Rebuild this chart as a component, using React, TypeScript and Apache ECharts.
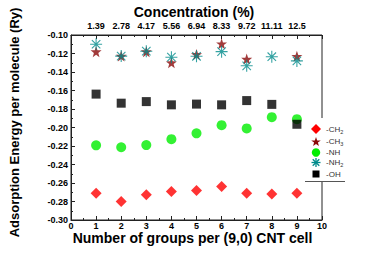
import React, { useEffect, useRef } from "react";
import * as echarts from "echarts";

const groups = [1, 2, 3, 4, 5, 6, 7, 8, 9];
const concentration = ["1.39", "2.78", "4.17", "5.56", "6.94", "8.33", "9.72", "11.11", "12.5"];
const ch2 = [-0.271, -0.280, -0.2726, -0.2691, -0.268, -0.2639, -0.271, -0.272, -0.271];
const ch3 = [-0.118, -0.1228, -0.118, -0.130, -0.121, -0.1095, -0.126, null, -0.123];
const nh = [-0.2193, -0.2214, -0.219, -0.2126, -0.2063, -0.1975, -0.201, -0.1888, -0.191];
const nh2 = [-0.110, -0.1228, -0.1175, -0.124, -0.123, -0.118, -0.1333, -0.1235, -0.128];
const oh = [-0.1639, -0.1737, -0.172, -0.1755, -0.1747, -0.1755, -0.1709, -0.175, -0.1965];
const legendLabels = ["-CH{s|2}", "-CH{s|3}", "-NH", "-NH{s|2}", "-OH"];

const STAR =
  "path://M0,-10L2.35,-3.24L9.51,-3.09L3.8,1.24L5.88,8.09L0,4L-5.88,8.09L-3.8,1.24L-9.51,-3.09L-2.35,-3.24Z";
const ASTER =
  "path://M-0.9,-10L0.9,-10L0.9,10L-0.9,10Z M-10,-0.9L10,-0.9L10,0.9L-10,0.9Z " +
  "M-7.7,-6.4L-6.4,-7.7L7.7,6.4L6.4,7.7Z M6.4,-7.7L7.7,-6.4L-6.4,7.7L-7.7,6.4Z";

const FONT = "Liberation Sans, Arial, sans-serif";
const COLORS = ["#ff0000", "#8b0a0a", "#00ee00", "#008b8b", "#000000"];

function pairs(vals: (number | null)[]) {
  return groups.map((g, i) => [g, vals[i]]).filter((p) => p[1] !== null);
}

function starPoints(cx: number, cy: number, R: number, r: number) {
  const pts: number[][] = [];
  for (let k = 0; k < 10; k++) {
    const a = (-90 + k * 36) * Math.PI / 180;
    const rad = k % 2 === 0 ? R : r;
    pts.push([cx + rad * Math.cos(a), cy + rad * Math.sin(a)]);
  }
  return pts;
}

function legendGraphics() {
  const cx = 316;
  const rows = [129, 141.5, 152.5, 162.5, 174];
  const els: any[] = [
    { type: "rect", shape: { x: 305, y: 118, width: 41, height: 63 }, style: { fill: "#fff" }, z: 50 },
    { type: "line", shape: { x1: 305, y1: 181.5, x2: 345, y2: 181.5 }, style: { stroke: "#555", lineWidth: 1 }, z: 51 },
  ];
  const y0 = rows[0], y1 = rows[1], y2 = rows[2], y3 = rows[3], y4 = rows[4];
  els.push({ type: "polygon", shape: { points: [[cx, y0 - 5], [cx + 5, y0], [cx, y0 + 5], [cx - 5, y0]] }, style: { fill: COLORS[0] }, z: 51 });
  els.push({ type: "polygon", shape: { points: starPoints(cx, y1 + 0.5, 5, 2) }, style: { fill: COLORS[1] }, z: 51 });
  els.push({ type: "circle", shape: { cx, cy: y2, r: 4.2 }, style: { fill: COLORS[2] }, z: 51 });
  const a = 4.5, d = 3.3;
  [[0, -a, 0, a], [-a, 0, a, 0], [-d, -d, d, d], [-d, d, d, -d]].forEach((s) =>
    els.push({ type: "line", shape: { x1: cx + s[0], y1: y3 + s[1], x2: cx + s[2], y2: y3 + s[3] }, style: { stroke: COLORS[3], lineWidth: 1.3 }, z: 51 })
  );
  els.push({ type: "rect", shape: { x: cx - 3.5, y: y4 - 3.5, width: 7, height: 7 }, style: { fill: COLORS[4] }, z: 51 });
  rows.forEach((y, i) =>
    els.push({
      type: "text", x: 326, y, z: 52,
      style: {
        text: legendLabels[i], fill: "#333", fontSize: 8, fontFamily: FONT, verticalAlign: "middle",
        rich: { s: { fontSize: 5.5, fill: "#333", fontFamily: FONT, padding: [5, 0, 0, 0] } },
      },
    })
  );
  return els;
}

export default function App() {
  const ref = useRef<HTMLDivElement>(null);
  useEffect(() => {
    document.body.style.margin = "0";
    const chart = echarts.init(ref.current!, null, { renderer: "svg" });
    const axisLine = { show: true, lineStyle: { color: "#222", width: 1 } };
    const tickLabel = { color: "#000", fontSize: 9, fontWeight: "bold" as const, fontFamily: FONT };
    chart.setOption({
      animation: false,
      backgroundColor: "#fff",
      grid: { left: 67, right: 52, top: 30, bottom: 44, show: true, borderColor: "#222", borderWidth: 1, backgroundColor: "transparent" },
      xAxis: [
        {
          type: "value", min: 0, max: 10, interval: 1, position: "bottom",
          axisLine, splitLine: { show: false },
          axisTick: { show: true, inside: true, length: 4, lineStyle: { color: "#222" } },
          minorTick: { show: true, splitNumber: 2, length: 2, lineStyle: { color: "#222" } },
          axisLabel: { ...tickLabel, margin: 1 },
          name: "Number of groups per (9,0) CNT cell",
          nameLocation: "middle", nameGap: 10.5, nameMoveOverlap: false,
          nameTextStyle: { color: "#000", fontSize: 14, fontWeight: "bold", fontFamily: FONT, padding: [0, 8, 0, 0] },
        },
        {
          type: "value", min: 0, max: 10, interval: 1, position: "top",
          axisLine, splitLine: { show: false },
          axisTick: { show: true, inside: true, length: 4, lineStyle: { color: "#222" } },
          minorTick: { show: true, splitNumber: 2, length: 2, lineStyle: { color: "#222" } },
          axisLabel: {
            ...tickLabel, margin: 5,
            formatter: (v: number) => (v >= 1 && v <= 9 ? concentration[Math.round(v) - 1] : ""),
          },
          name: "Concentration (%)",
          nameLocation: "middle", nameGap: 16, nameMoveOverlap: false,
          nameTextStyle: { color: "#000", fontSize: 14, fontWeight: "bold", fontFamily: FONT, padding: [0, 5, 0, 0] },
        },
      ],
      yAxis: {
        type: "value", min: -0.3, max: -0.1, interval: 0.02,
        axisLine, splitLine: { show: false },
        axisTick: { show: true, inside: true, length: 4, lineStyle: { color: "#222" } },
        minorTick: { show: true, splitNumber: 2, length: 2, lineStyle: { color: "#222" } },
        axisLabel: { ...tickLabel, margin: 3, formatter: (v: number) => v.toFixed(2) },
        name: "Adsorption Energy per molecule (Ry)",
        nameLocation: "middle", nameGap: 50, nameMoveOverlap: false,
        nameTextStyle: { color: "#000", fontSize: 13, fontWeight: "bold", fontFamily: FONT, padding: [0, 0, 0, 10] },
      },
      graphic: legendGraphics(),
      series: [
        { name: "-CH2", type: "scatter", data: pairs(ch2), symbol: "diamond", symbolSize: 11, itemStyle: { color: COLORS[0] }, z: 2 },
        { name: "-CH3", type: "scatter", data: pairs(ch3), symbol: STAR, symbolSize: 11, itemStyle: { color: COLORS[1] }, z: 2 },
        { name: "-NH", type: "scatter", data: pairs(nh), symbol: "circle", symbolSize: 10, itemStyle: { color: COLORS[2] }, z: 2 },
        { name: "-NH2", type: "scatter", data: pairs(nh2), symbol: ASTER, symbolSize: 12, itemStyle: { color: COLORS[3] }, z: 3 },
        { name: "-OH", type: "scatter", data: pairs(oh), symbol: "rect", symbolSize: 9, itemStyle: { color: COLORS[4] }, z: 2 },
      ],
    });
    return () => chart.dispose();
  }, []);
  return <div ref={ref} style={{ width: 374, height: 264 }} />;
}
